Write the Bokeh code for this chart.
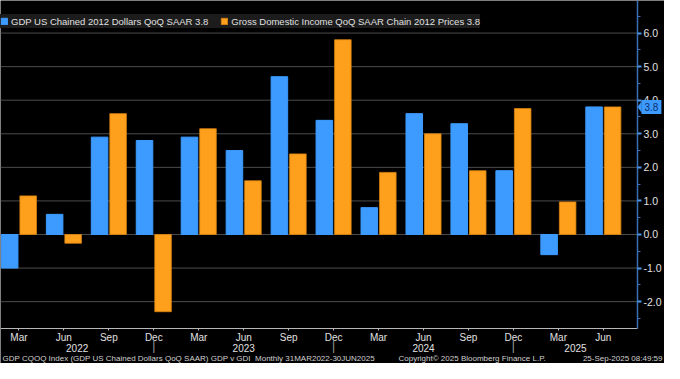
from bokeh.plotting import figure
from bokeh.models import (ColumnDataSource, Range1d, FixedTicker, NumeralTickFormatter,
                          LinearAxis, Label, PolyAnnotation, Legend, LegendItem)
from bokeh.transform import dodge
from bokeh.embed import file_html
from bokeh.resources import INLINE

# ---- data ----
quarters = ["Mar", "Jun", "Sep", "Dec", "Mar", "Jun", "Sep", "Dec",
            "Mar", "Jun", "Sep", "Dec", "Mar", "Jun"]
years = [2022, 2022, 2022, 2022, 2023, 2023, 2023, 2023,
         2024, 2024, 2024, 2024, 2025, 2025]
gdp = [-1.0, 0.6, 2.9, 2.8, 2.9, 2.5, 4.7, 3.4, 0.8, 3.6, 3.3, 1.9, -0.6, 3.8]
gdi = [1.15, -0.26, 3.6, -2.3, 3.15, 1.6, 2.4, 5.8, 1.85, 3.0, 1.9, 3.75, 0.97, 3.8]
y_ticks = [-2, -1, 0, 1, 2, 3, 4, 5, 6]
gdp_name = "GDP US Chained 2012 Dollars QoQ SAAR 3.8"
gdi_name = "Gross Domestic Income QoQ SAAR Chain 2012 Prices 3.8"
last_value = 3.8
footer_left = "GDP CQOQ Index (GDP US Chained Dollars QoQ SAAR) GDP v GDI\u00a0\u00a0Monthly 31MAR2022-30JUN2025"
footer_mid = "Copyright\u00a9 2025 Bloomberg Finance L.P."
footer_right = "25-Sep-2025 08:49:59"

FONT = "Liberation Sans"
BLUE = "#3d9bff"
ORANGE = "#ffa01c"
TXT = "#e0e0e0"
W, H = 664, 363

# plotting area geometry (data space)
x0, axis_x = -0.41, 13.76          # left edge of chart / location of the right axis
y_lo, y_hi = -2.8, 6.97            # value span covered by the right axis
kx = 637 / (axis_x - x0)           # px per x unit
ky = 328 / (y_hi - y_lo)           # px per y unit
x_end = x0 + W / kx
y_start = y_hi - H / ky

idx = list(range(len(quarters)))
src = ColumnDataSource(data=dict(x=idx, gdp=gdp, gdi=gdi))

p = figure(width=W, height=H, output_backend="svg", toolbar_location=None,
           x_range=Range1d(x0, x_end), y_range=Range1d(y_start, y_hi),
           x_axis_location=None, y_axis_location=None,
           min_border_left=0, min_border_right=0, min_border_top=0, min_border_bottom=0,
           background_fill_color="black", border_fill_color="black", outline_line_color=None)
p.xgrid.visible = False
p.ygrid.visible = False

# gridlines stop at the axis
p.segment(x0=[x0] * len(y_ticks), x1=[axis_x] * len(y_ticks), y0=y_ticks, y1=y_ticks,
          line_color="#4c4c4c", line_width=1)

r1 = p.vbar(x=dodge("x", -0.206, range=p.x_range), top="gdp", bottom=0, width=0.368,
            source=src, fill_color=BLUE, line_color=BLUE)
r2 = p.vbar(x=dodge("x", 0.206, range=p.x_range), top="gdi", bottom=0, width=0.368,
            source=src, fill_color=ORANGE, line_color="#d98410", line_width=0.8)

# right value axis
yt = FixedTicker(ticks=y_ticks, minor_ticks=[t + 0.5 for t in [-3] + y_ticks])
ya = LinearAxis(ticker=yt, formatter=NumeralTickFormatter(format="0.0"),
                fixed_location=axis_x, bounds=(y_lo, y_hi))
ya.axis_line_color = "#3a6fb8"
ya.axis_line_width = 1.5
ya.major_tick_line_color = "#4d95e8"
ya.major_tick_line_width = 2
ya.major_tick_out = 4
ya.major_tick_in = 0
ya.minor_tick_line_color = "#3a6fb8"
ya.minor_tick_out = 3
ya.minor_tick_in = 0
ya.major_label_standoff = 2
ya.major_label_text_color = TXT
ya.major_label_text_font = FONT
ya.major_label_text_font_size = "10.5px"
p.add_layout(ya, "right")

# bottom quarter axis
xa = LinearAxis(ticker=FixedTicker(ticks=idx), fixed_location=y_lo, bounds=(x0, axis_x))
xa.major_label_overrides = {i: q for i, q in zip(idx, quarters)}
xa.axis_line_color = "#b8b8b8"
xa.major_tick_line_color = "#b8b8b8"
xa.major_tick_out = 2
xa.major_tick_in = 0
xa.minor_tick_line_color = None
xa.major_label_standoff = 1
xa.major_label_text_color = TXT
xa.major_label_text_font = FONT
xa.major_label_text_font_size = "10px"
p.add_layout(xa, "below")

# year labels centred on the visible part of each year, separators at year ends
for yv in sorted(set(years)):
    pos = [i for i, yy in zip(idx, years) if yy == yv]
    lo = max(pos[0] - 1, x0)
    hi = pos[-1] if pos[-1] < idx[-1] else axis_x
    p.add_layout(Label(x=(lo + hi) / 2, y=16, y_units="screen", text=str(yv),
                       text_align="center", text_baseline="middle", text_color=TXT,
                       text_font=FONT, text_font_size="10px"))
for i, q in zip(idx, quarters):
    if q == "Dec":
        p.add_layout(Label(x=i, y=18, y_units="screen", text="|", text_align="center",
                           text_baseline="middle", text_color="#9a9a9a",
                           text_font=FONT, text_font_size="12px"))

# footer
for txt, xs, al in [(footer_left, 2, "left"), (footer_mid, 398, "left"), (footer_right, 662, "right")]:
    p.add_layout(Label(x=xs, y=5, x_units="screen", y_units="screen", text=txt,
                       text_align=al, text_baseline="middle", text_color="#d0d0d0",
                       text_font=FONT, text_font_size="8px"))

# last value tag on the axis
tw, th = 4 / kx, 5.5 / ky
p.add_layout(PolyAnnotation(xs=[axis_x + 0.3 / kx, axis_x + tw, axis_x + tw],
                            ys=[last_value, last_value + th, last_value - th],
                            fill_color=BLUE, fill_alpha=1, line_color=BLUE))
p.add_layout(Label(x=axis_x, y=last_value, x_offset=4, text=f"{last_value:.1f}",
                   text_align="left", text_baseline="middle", text_color="#0b2f6e",
                   text_font=FONT, text_font_size="10px",
                   background_fill_color=BLUE, background_fill_alpha=1, padding=3))

# legend
legend = Legend(items=[LegendItem(label=gdp_name, renderers=[r1]),
                       LegendItem(label=gdi_name, renderers=[r2])],
                location=(0, H - 28), orientation="horizontal",
                background_fill_color="#1c1c1c", background_fill_alpha=1,
                border_line_color=None, label_text_color=TXT, label_text_font=FONT,
                label_text_font_size="9.5px", glyph_width=8, glyph_height=8,
                label_standoff=3, spacing=12, padding=5, margin=0, label_height=14)
p.add_layout(legend)

open("out.html", "w").write(file_html(p, INLINE))
